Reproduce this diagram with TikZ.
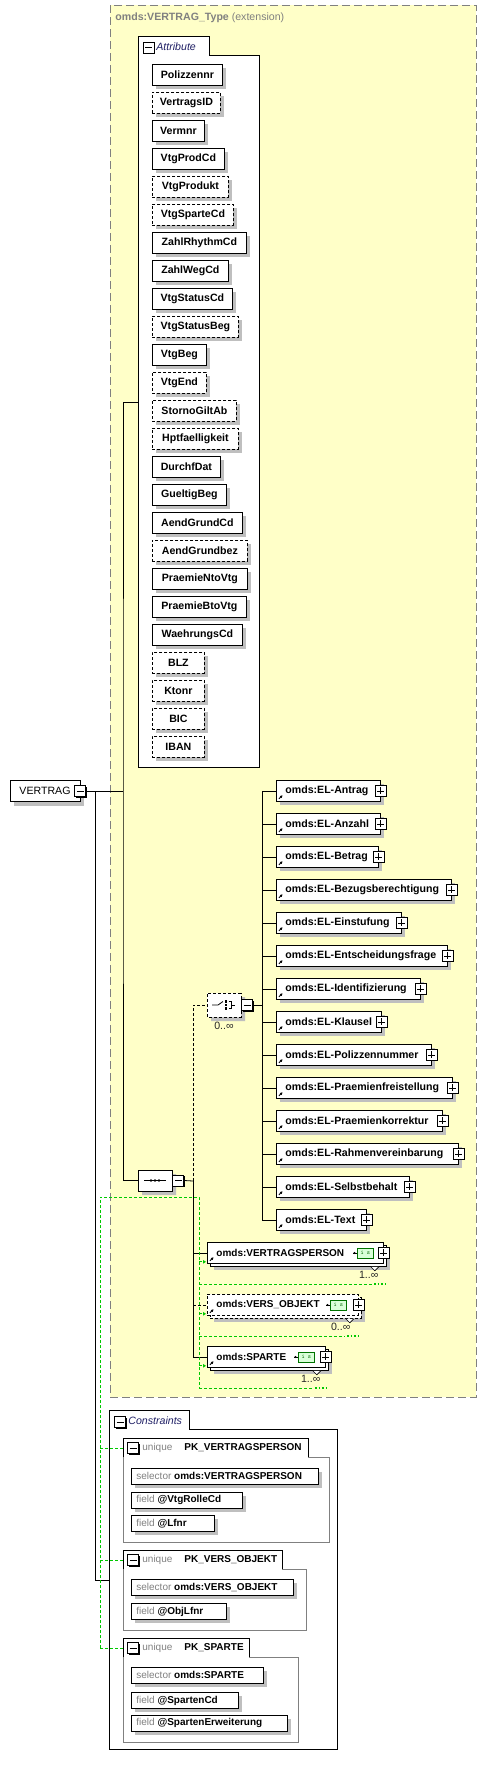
\documentclass[tikz,border=0pt]{standalone}
\usepackage{fontspec}
\setmainfont{Liberation Sans}
\usetikzlibrary{positioning,shapes.misc,shadows,arrows.meta}
\definecolor{xsdyellow}{RGB}{255,255,200}
\definecolor{tabblue}{RGB}{30,30,100}
\definecolor{keygreen}{RGB}{0,200,0}
\newcommand{\refarrow}[1]{\draw[line width=.9pt, -{Triangle[length=2.5pt,width=2.5pt]}]
  ([shift={(3,-3)}]#1.south west) -- ++(3.5,-3.5);}

\begin{document}
\fontsize{10.6}{12.6}\selectfont
\begin{tikzpicture}[x=1pt, y=-1pt, line width=.8pt,
    every node/.style={inner sep=0pt},
    boxshadow/.style={drop shadow={shadow xshift=4pt, shadow yshift=-4pt, fill=black!25, opacity=1}},
    stackshadow/.style={drop shadow={shadow xshift=7pt, shadow yshift=-7pt, fill=black!25, opacity=1},
      copy shadow={shadow xshift=3pt, shadow yshift=-3pt}},
    reqbox/.style={},
    optbox/.style={dash pattern=on 3pt off 2pt},
    attr/.style={draw, fill=white, boxshadow, anchor=north west, minimum height=21pt, font=\bfseries},
    elbox/.style={draw, fill=white, anchor=north west, minimum height=21pt},
    eltext/.style={anchor=west, font=\bfseries},
    membertext/.style={anchor=west, font=\fontsize{10}{12}\selectfont\bfseries},
    keytext/.style={anchor=west, font=\fontsize{10}{12}\selectfont},
    fieldbox/.style={draw, fill=white, boxshadow, anchor=north west, minimum height=16pt},
    pmbtn/.style={draw, fill=white, minimum size=11pt, line width=.9pt,
      drop shadow={shadow xshift=1pt, shadow yshift=-1pt, fill=black, opacity=1}},
    plusbtn/.style={pmbtn, path picture={\draw[line width=.8pt]
      ([xshift=2pt]path picture bounding box.west) -- ([xshift=-2pt]path picture bounding box.east)
      ([yshift=-2pt]path picture bounding box.north) -- ([yshift=2pt]path picture bounding box.south);}},
    minusbtn/.style={pmbtn, path picture={\draw[line width=.8pt]
      ([xshift=2pt]path picture bounding box.west) -- ([xshift=-2pt]path picture bounding box.east);}},
    isbadge/.style={draw=green!45!black, fill=green!15, text=green!40!black,
      font=\fontsize{6}{6}\selectfont\ttfamily, minimum width=16pt, minimum height=10pt},
    multlabel/.style={text=black!85},
    keyref/.style={draw=keygreen, dash pattern=on 3pt off 2pt},
    keydots/.style={draw=keygreen, line width=1.6pt, dash pattern=on 1.6pt off 2pt},
    modelgroup/.style={draw, fill=white, boxshadow, chamfered rectangle,
      chamfered rectangle xsep=5pt, chamfered rectangle ysep=5pt, minimum width=34pt}
  ]
  \useasboundingbox (0,0) rectangle (486,1767);

  % extension frame
  \draw[fill=xsdyellow, draw=gray, dash pattern=on 8pt off 4pt] (110,5) rectangle (476,1397);
  \node[anchor=west, text=gray] (typetitle) at (115,18)
    {\textbf{omds:VERTRAG\_Type} (extension)};

  % attributes
  \draw[fill=white] (138,767) -- (138,36) -- (209,36) -- (209,55) -- (259,55) -- (259,767) -- cycle;
  \node[minusbtn] (attrmin) at (148.5,47.5) {};
  \node[anchor=west, font=\itshape, text=tabblue] (attrlabel) at (156,47) {Attribute};
  \foreach \n/\w/\s [count=\i from 0] in {Polizzennr/70/reqbox, VertragsID/68/optbox,
      Vermnr/52/reqbox, VtgProdCd/72/reqbox, VtgProdukt/76/optbox, VtgSparteCd/81/optbox,
      ZahlRhythmCd/94/reqbox, ZahlWegCd/76/reqbox, VtgStatusCd/80/reqbox, VtgStatusBeg/86/optbox,
      VtgBeg/54/reqbox, VtgEnd/54/optbox, StornoGiltAb/84/optbox, Hptfaelligkeit/86/optbox,
      DurchfDat/68/reqbox, GueltigBeg/74/reqbox, AendGrundCd/90/reqbox, AendGrundbez/95/optbox,
      PraemieNtoVtg/95/reqbox, PraemieBtoVtg/94/reqbox, WaehrungsCd/90/reqbox,
      BLZ/52/optbox, Ktonr/52/optbox, BIC/52/optbox, IBAN/52/optbox}
    \node[attr, \s, minimum width=\w pt] (attr\i) at (152, 64+28*\i) {\n};

  % root element
  \node[draw, fill=white, boxshadow, minimum width=70pt, minimum height=21pt] (vertrag) at (45,791) {VERTRAG};
  \node[minusbtn] (vertragmin) at (vertrag.east) {};

  % sequence and choice
  \node[modelgroup, minimum height=21pt] (seq) at (155,1180.5) {};
  \draw ([xshift=-11pt]seq.center) -- ([xshift=11pt]seq.center);
  \foreach \dx in {-4,0,4}
    \fill ([xshift=\dx pt]seq.center) circle[radius=1.4pt];
  \node[minusbtn, right=0pt of seq] (seqmin) {};

  \node[modelgroup, optbox, minimum height=24pt] (choice) at (224,1005) {};
  \draw ([xshift=-12pt]choice.center) -- ([xshift=-6pt]choice.center) -- ++(5pt,3.5pt);
  \foreach \dy in {-3.5,0,3.5}
    \fill ([shift={(0.5pt,\dy pt-1.25pt)}]choice.center) rectangle ++(2.5pt,2.5pt);
  \draw ([shift={(4.5pt,3.5pt)}]choice.center) -- ++(3pt,0) -- ++(0,-7pt) -- ++(-3pt,0)
    ([xshift=7.5pt]choice.center) -- ++(3pt,0);
  \node[minusbtn, right=0pt of choice] (choicemin) {};
  \node[multlabel, below=4pt of choice] (choicemul) {0..∞};

  % choice members
  \foreach \n/\w [count=\i from 0] in {Antrag/104, Anzahl/104, Betrag/102,
      Bezugsberechtigung/175, Einstufung/125, Entscheidungsfrage/171, Identifizierung/144,
      Klausel/105, Polizzennummer/155, Praemienfreistellung/176, Praemienkorrektur/166,
      Rahmenvereinbarung/182, Selbstbehalt/133, Text/90} {
    \node[elbox, boxshadow, minimum width=\w pt] (el\i) at (276, 780+33*\i) {};
    \node[eltext] at ([xshift=9pt]el\i.west) {omds:EL-\n};
    \node[plusbtn] at (el\i.east) {};
    \refarrow{el\i}
  }

  % sequence members
  \node[elbox, stackshadow, minimum width=176pt] (vp) at (207,1242) {};
  \node[membertext] at ([xshift=9pt]vp.west) {omds:VERTRAGSPERSON};
  \node[isbadge, left=10pt of vp.east] (vpis) {i s};
  \node[elbox, optbox, stackshadow, minimum width=151pt] (vo) at (207,1294) {};
  \node[membertext] at ([xshift=9pt]vo.west) {omds:VERS\_OBJEKT};
  \node[isbadge, left=12pt of vo.east] (vois) {i s};
  \node[elbox, stackshadow, minimum width=118pt] (sp) at (207,1346) {};
  \node[membertext] at ([xshift=9pt]sp.west) {omds:SPARTE};
  \node[isbadge, left=11pt of sp.east] (spis) {i s};
  \foreach \e in {vp,vo,sp} {
    \node[plusbtn] at (\e.east) {};
    \refarrow{\e}
    \fill ([xshift=-2.5pt]\e is.west) circle[radius=1.1pt];
    \draw ([xshift=-4pt]\e is.west) -- (\e is.west);
    \draw[fill=white, line width=.6pt] ([shift={(-13pt,-3pt)}]\e.south east) -- ++(4pt,-4pt) -- ++(4pt,4pt);
  }
  \node[multlabel, anchor=north east] (vpmul) at ([shift={(-5pt,-7pt)}]vp.south east) {1..∞};
  \node[multlabel, anchor=north east] (vomul) at ([shift={(-8pt,-7pt)}]vo.south east) {0..∞};
  \node[multlabel, anchor=north east] (spmul) at ([shift={(-5pt,-7pt)}]sp.south east) {1..∞};

  % constraints
  \draw (109,1749) -- (109,1410) -- (189,1410) -- (189,1429) -- (337,1429) -- (337,1749) -- cycle;
  \node[minusbtn] (consmin) at (120,1422) {};
  \node[anchor=west, font=\itshape, text=tabblue] (conslabel) at (128,1421) {Constraints};
  \foreach \k/\tr/\t/\br/\bb in {VERTRAGSPERSON/308/1438/329/1542, VERS\_OBJEKT/282/1550/306/1630,
      SPARTE/249/1638/298/1742} {
    \draw[gray] (\tr,\t+19) -- (\br,\t+19) -- (\br,\bb) -- (123,\bb) -- (123,\t+19);
    \draw (123,\t+19) -- (123,\t) -- (\tr,\t) -- (\tr,\t+19);
    \node[minusbtn] at (133,\t+10) {};
    \node[keytext] at (142,\t+10) {\textcolor{gray}{unique}\hspace{12pt}\textbf{PK\_\k}};
  }
  \foreach \k/\n/\w/\y in {selector/omds:VERTRAGSPERSON/187/1468, field/@VtgRolleCd/111/1492,
      field/@Lfnr/83/1515, selector/omds:VERS\_OBJEKT/162/1579, field/@ObjLfnr/95/1603,
      selector/omds:SPARTE/132/1667, field/@SpartenCd/107/1692, field/@SpartenErweiterung/156/1715} {
    \node[fieldbox, minimum width=\w pt] (f\y) at (131,\y) {};
    \node[keytext] at ([xshift=5pt]f\y.west) {\textcolor{gray}{\k} \textbf{\n}};
  }

  % connectors
  \coordinate (attrin) at (138,402);
  \coordinate (split) at (123,791);
  \coordinate (consbr) at (95,791);
  \coordinate (consin) at (109,1580);
  \coordinate (seqbus) at (193,1181);
  \coordinate (chbus) at (262,1005);
  \draw (vertragmin.east) -- (split);
  \draw (attrin) -| (split) |- (seq.west);
  \draw (consbr) |- (consin);
  \draw (seqmin.east) -- (seqbus);
  \draw[optbox] (seqbus) |- (choice.west);
  \draw (seqbus) |- (vp.west);
  \draw (seqbus) |- (sp.west);
  \draw[optbox] (vo.west -| seqbus) -- (vo.west);
  \draw (choicemin.east) -- (chbus);
  \draw (el0.west -| chbus) -- (el13.west -| chbus);
  \foreach \i in {0,...,13}
    \draw (el\i.west) -- (el\i.west -| chbus);

  % key references
  \coordinate (keytop) at (100,1197);
  \coordinate (keybus) at (199,1197);
  \draw[keyref] (100,1648) -- (keytop) -- (keybus) -- (199,1388);
  \foreach \y/\e in {1284/372, 1336/345, 1388/313} {
    \draw[keyref] (199,\y) -- (\e,\y);
    \draw[keydots] (\e+2,\y) -- (\e+14,\y);
  }
  \foreach \e in {vp,vo,sp}
    \draw[keyref, -{Triangle[length=3pt,width=3.5pt]}] ([yshift=2pt]\e.south west -| keybus) -- ([shift={(-1pt,2pt)}]\e.south west);
  \foreach \t in {1438,1550,1638}
    \draw[keyref] (100,\t+10) -- (123,\t+10);
\end{tikzpicture}
\end{document}
